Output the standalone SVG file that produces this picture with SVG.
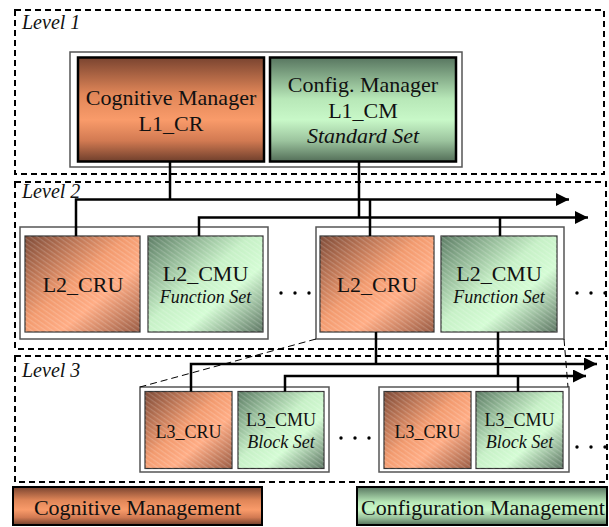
<svg xmlns="http://www.w3.org/2000/svg" width="609" height="527" viewBox="0 0 609 527">
<defs>
<linearGradient id="gCrV" x1="0" y1="0" x2="0" y2="1">
<stop offset="0" stop-color="#7a4430"/><stop offset="0.35" stop-color="#e08658"/><stop offset="0.6" stop-color="#f99b6a"/><stop offset="0.8" stop-color="#d27a52"/><stop offset="1" stop-color="#6f3f2c"/>
</linearGradient>
<linearGradient id="gCmV" x1="0" y1="0" x2="0" y2="1">
<stop offset="0" stop-color="#587660"/><stop offset="0.4" stop-color="#b8e8b8"/><stop offset="0.6" stop-color="#c8f8c8"/><stop offset="0.8" stop-color="#9cc49e"/><stop offset="1" stop-color="#536e58"/>
</linearGradient>
<linearGradient id="gCrD" x1="0" y1="0" x2="1" y2="1">
<stop offset="0" stop-color="#7e4b38"/><stop offset="0.45" stop-color="#f29a6e"/><stop offset="0.65" stop-color="#ffac84"/><stop offset="1" stop-color="#9a5c44"/>
</linearGradient>
<linearGradient id="gCmD" x1="0" y1="0" x2="1" y2="1">
<stop offset="0" stop-color="#5c7c64"/><stop offset="0.45" stop-color="#c6f0c6"/><stop offset="0.65" stop-color="#d4fcd4"/><stop offset="1" stop-color="#5d7663"/>
</linearGradient>
<pattern id="hatch" width="4" height="4" patternUnits="userSpaceOnUse" patternTransform="rotate(35)">
<rect width="4" height="1.3" fill="#ffffff" fill-opacity="0.18"/>
</pattern>
<marker id="arr" viewBox="0 0 13 13" refX="13" refY="6.5" markerWidth="13" markerHeight="13" markerUnits="userSpaceOnUse" orient="auto">
<path d="M0,0 L13,6.5 L0,13 z" fill="#000"/>
</marker>
<style>
.lvl{fill:none;stroke:#000;stroke-width:2;stroke-dasharray:6 4}
.lbl{font-family:"Liberation Serif","Times New Roman",serif;font-style:italic;font-size:20px;fill:#111}
.frame{fill:#fff;stroke:#555;stroke-width:1.5}
.l1box{stroke:#000;stroke-width:2.5}
.ibox{stroke:#333;stroke-width:1.2}
.t{font-family:"Liberation Serif","Times New Roman",serif;fill:#111;text-anchor:middle}
.t22{font-size:22px}
.t18{font-size:18px}
.it{font-style:italic}
.wire{fill:none;stroke:#000;stroke-width:2.5}
.thin{fill:none;stroke:#000;stroke-width:1;stroke-dasharray:7 4}
.dot{fill:#000}
</style>
</defs>
<rect width="609" height="527" fill="#fff"/>

<g id="levels">
<rect class="lvl" x="15" y="10" width="589" height="164"/>
<text class="lbl" x="22" y="29">Level 1</text>
<rect class="lvl" x="15" y="182" width="591" height="167"/>
<text class="lbl" x="22" y="198">Level 2</text>
<rect class="lvl" x="15" y="356" width="592" height="126"/>
<text class="lbl" x="22" y="377">Level 3</text>
</g>

<g id="level1">
<rect class="frame" x="70" y="52" width="392" height="115"/>
<g id="L1_CR">
<rect class="l1box" x="78" y="57.5" width="186" height="104" fill="url(#gCrV)"/>
<text class="t t22" x="171" y="105">Cognitive Manager</text>
<text class="t t22" x="171" y="131">L1_CR</text>
</g>
<g id="L1_CM">
<rect class="l1box" x="270" y="57.5" width="186" height="104" fill="url(#gCmV)"/>
<text class="t t22" x="363" y="92">Config. Manager</text>
<text class="t t22" x="363" y="118">L1_CM</text>
<text class="t t22 it" x="363" y="143">Standard Set</text>
</g>
</g>

<g id="level2">
<rect class="frame" x="20" y="227" width="248" height="112"/>
<g id="L2_CRU_a">
<rect class="ibox" x="25" y="236" width="115" height="96" fill="url(#gCrD)"/>
<rect x="25" y="236" width="115" height="96" fill="url(#hatch)"/>
<text class="t t22" x="83" y="292">L2_CRU</text>
</g>
<g id="L2_CMU_a">
<rect class="ibox" x="148" y="236" width="115" height="96" fill="url(#gCmD)"/>
<rect x="148" y="236" width="115" height="96" fill="url(#hatch)"/>
<text class="t t22" x="205.5" y="281">L2_CMU</text>
<text class="t t18 it" x="205.5" y="303">Function Set</text>
</g>
<rect class="frame" x="316" y="227" width="248" height="112"/>
<g id="L2_CRU_b">
<rect class="ibox" x="320" y="236" width="114" height="96" fill="url(#gCrD)"/>
<rect x="320" y="236" width="114" height="96" fill="url(#hatch)"/>
<text class="t t22" x="377" y="292">L2_CRU</text>
</g>
<g id="L2_CMU_b">
<rect class="ibox" x="441" y="236" width="116" height="96" fill="url(#gCmD)"/>
<rect x="441" y="236" width="116" height="96" fill="url(#hatch)"/>
<text class="t t22" x="499" y="281">L2_CMU</text>
<text class="t t18 it" x="499" y="303">Function Set</text>
</g>
<g id="dots2">
<circle class="dot" cx="281" cy="293" r="1.7"/><circle class="dot" cx="295" cy="293" r="1.7"/><circle class="dot" cx="309" cy="293" r="1.7"/>
<circle class="dot" cx="577" cy="293" r="1.7"/><circle class="dot" cx="591" cy="293" r="1.7"/><circle class="dot" cx="605" cy="293" r="1.7"/>
</g>
</g>

<g id="level3">
<rect class="frame" x="140" y="387" width="189" height="85"/>
<g id="L3_CRU_a">
<rect class="ibox" x="145" y="391.5" width="87" height="77" fill="url(#gCrD)"/>
<rect x="145" y="391.5" width="87" height="77" fill="url(#hatch)"/>
<text class="t t18" x="188.5" y="438">L3_CRU</text>
</g>
<g id="L3_CMU_a">
<rect class="ibox" x="238" y="391.5" width="86" height="77" fill="url(#gCmD)"/>
<rect x="238" y="391.5" width="86" height="77" fill="url(#hatch)"/>
<text class="t t18" x="281" y="426">L3_CMU</text>
<text class="t t18 it" x="281" y="448">Block Set</text>
</g>
<rect class="frame" x="379" y="387" width="190" height="85"/>
<g id="L3_CRU_b">
<rect class="ibox" x="384" y="391.5" width="87" height="77" fill="url(#gCrD)"/>
<rect x="384" y="391.5" width="87" height="77" fill="url(#hatch)"/>
<text class="t t18" x="427.5" y="438">L3_CRU</text>
</g>
<g id="L3_CMU_b">
<rect class="ibox" x="476" y="391.5" width="87" height="77" fill="url(#gCmD)"/>
<rect x="476" y="391.5" width="87" height="77" fill="url(#hatch)"/>
<text class="t t18" x="519.5" y="426">L3_CMU</text>
<text class="t t18 it" x="519.5" y="448">Block Set</text>
</g>
<g id="dots3">
<circle class="dot" cx="341" cy="438" r="1.7"/><circle class="dot" cx="355" cy="438" r="1.7"/><circle class="dot" cx="369" cy="438" r="1.7"/>
<circle class="dot" cx="577" cy="447" r="1.7"/><circle class="dot" cx="591" cy="447" r="1.7"/><circle class="dot" cx="605" cy="447" r="1.7"/>
</g>
</g>

<g id="connectors">
<path class="wire" d="M170,162 V199.5"/>
<path class="wire" d="M76,236 V199.5 H569" marker-end="url(#arr)"/>
<path class="wire" d="M359,162 V217.5"/>
<path class="wire" d="M199,236 V217.5 H588" marker-end="url(#arr)"/>
<path class="wire" d="M370,199.5 V236"/>
<path class="wire" d="M500,217.5 V236"/>
<path class="wire" d="M376,332 V364"/>
<path class="wire" d="M191,391.5 V364 H597" marker-end="url(#arr)"/>
<path class="wire" d="M498,332 V376"/>
<path class="wire" d="M285,391.5 V376 H586" marker-end="url(#arr)"/>
<path class="wire" d="M518,376 V391.5"/>
<path class="thin" d="M316,339 L140,387"/>
<path class="thin" d="M564,339 L568,387"/>
</g>

<g id="legend">
<g id="legend_cog">
<rect x="13" y="487" width="249" height="38" fill="url(#gCrV)" stroke="#000" stroke-width="2"/>
<text class="t t22" x="137.5" y="515">Cognitive Management</text>
</g>
<g id="legend_conf">
<rect x="357" y="487" width="250" height="38" fill="url(#gCmV)" stroke="#000" stroke-width="2"/>
<text class="t t22" x="483" y="515">Configuration Management</text>
</g>
</g>
</svg>
